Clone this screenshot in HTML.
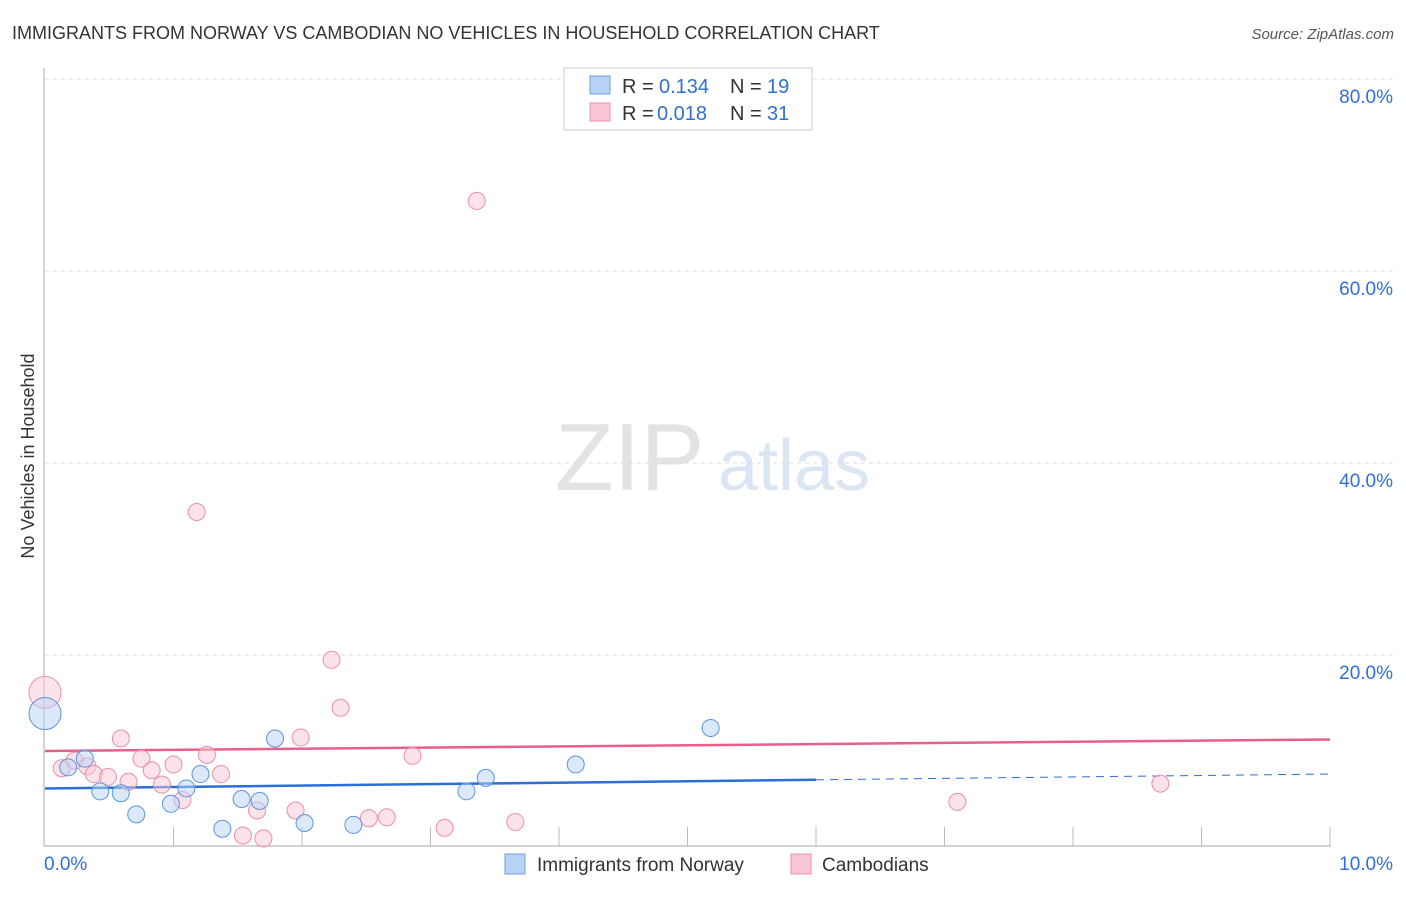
<!DOCTYPE html>
<html><head><meta charset="utf-8"><style>
body{margin:0;background:#fff;font-family:"Liberation Sans",sans-serif;}
svg text{font-family:"Liberation Sans",sans-serif;}
</style></head><body>
<svg id="chart" width="1406" height="892">
<text x="12" y="39" font-size="18" fill="#333">IMMIGRANTS FROM NORWAY VS CAMBODIAN NO VEHICLES IN HOUSEHOLD CORRELATION CHART</text>
<text x="1394" y="39" font-size="15" fill="#555" font-style="italic" text-anchor="end">Source: ZipAtlas.com</text>
<text x="555" y="490" font-size="96" fill="#e3e3e3" font-family="Liberation Serif">ZIP</text>
<text x="718" y="490" font-size="72" fill="#dbe6f5">atlas</text>
<text transform="translate(34,456) rotate(-90)" font-size="18" fill="#333" text-anchor="middle">No Vehicles in Household</text>
<g id="grid"></g><g id="axes"></g><g id="trend"></g><g id="pts"></g>
<g>
<rect x="564" y="68" width="248" height="62" fill="#fff" stroke="#ccc"/>
<rect x="590" y="76" width="20" height="18" fill="#b8d3f5" stroke="#6a9fe0"/>
<text x="622" y="93" font-size="20" fill="#333">R =</text>
<text x="659" y="93" font-size="20" fill="#2f6fd6">0.134</text>
<text x="730" y="93" font-size="20" fill="#333">N =</text>
<text x="767" y="93" font-size="20" fill="#2f6fd6">19</text>
<rect x="590" y="103" width="20" height="18" fill="#f9c7d6" stroke="#ec8fab"/>
<text x="622" y="120" font-size="20" fill="#333">R =</text>
<text x="657" y="120" font-size="20" fill="#2f6fd6">0.018</text>
<text x="730" y="120" font-size="20" fill="#333">N =</text>
<text x="767" y="120" font-size="20" fill="#2f6fd6">31</text>
</g>
<g>
<rect x="505" y="854" width="20" height="20" fill="#b8d3f5" stroke="#6a9fe0"/>
<text x="537" y="871" font-size="19" fill="#333">Immigrants from Norway</text>
<rect x="791" y="854" width="20" height="20" fill="#f9c7d6" stroke="#ec8fab"/>
<text x="822" y="871" font-size="19" fill="#333">Cambodians</text>
</g>
</svg>
<script>
const yTicks=[20,40,60,80];
const yTickLabels=["20.0%","40.0%","60.0%","80.0%"];
const xTickLabels=["0.0%","10.0%"];
const norwayX=[0,0.18,0.31,0.43,0.59,0.71,0.98,1.1,1.21,1.38,1.53,1.67,1.79,2.02,2.4,3.28,3.43,4.13,5.18];
const norwayY=[13.9,8.3,9.2,5.8,5.6,3.4,4.5,6.1,7.6,1.9,5.0,4.8,11.3,2.5,2.3,5.8,7.2,8.6,12.4];
const cambX=[0,0.13,0.23,0.33,0.38,0.49,0.59,0.65,0.75,0.83,0.91,1.0,1.07,1.18,1.26,1.37,1.54,1.65,1.7,1.95,1.99,2.23,2.3,2.52,2.66,2.86,3.11,3.36,3.66,7.1,8.68];
const cambY=[16.1,8.2,9.0,8.4,7.6,7.3,11.3,6.8,9.2,8.0,6.5,8.6,4.9,34.9,9.6,7.6,1.2,3.8,0.9,3.8,11.4,19.5,14.5,3.0,3.1,9.5,2.0,67.3,2.6,4.7,6.6];
const trendB=[6.1,0.15];
const trendP=[10.0,0.12];
const X=v=>45+v*128.5, Y=v=>847-v*9.6;
const NS="http://www.w3.org/2000/svg";
function mk(p,t,a){const e=document.createElementNS(NS,t);for(const k in a)e.setAttribute(k,a[k]);document.getElementById(p).appendChild(e);return e;}
yTicks.forEach((t,i)=>{
 const l=mk('grid','line',{x1:45,x2:1395,y1:Y(t),y2:Y(t),stroke:'#ddd','stroke-dasharray':'4,4'});
 
 
 const tx=mk('grid','text',{x:1393,y:Y(t)+24,'font-size':19,fill:'#2f6fd6','text-anchor':'end'});
 tx.textContent=yTickLabels[i];
 
 
});
mk('axes','line',{x1:44,x2:44,y1:68,y2:846,stroke:'#aaa'});
const xa=mk('axes','line',{x1:44,x2:1331,y1:846,y2:846,stroke:'#aaa'});


for(let i=1;i<=10;i++){mk('axes','line',{x1:X(i),x2:X(i),y1:827,y2:846,stroke:'#bbb'});}
const xl0=mk('axes','text',{x:44,y:870,'font-size':19,fill:'#2f6fd6'});xl0.textContent=xTickLabels[0];


const xl1=mk('axes','text',{x:1393,y:870,'font-size':19,fill:'#2f6fd6','text-anchor':'end'});xl1.textContent=xTickLabels[1];


const tb1=mk('trend','line',{x1:X(0),y1:Y(trendB[0]),x2:X(6),y2:Y(trendB[0]+6*trendB[1]),stroke:'#2a6fd6','stroke-width':2.5});


mk('trend','line',{x1:X(6),y1:Y(trendB[0]+6*trendB[1]),x2:X(10),y2:Y(trendB[0]+10*trendB[1]),stroke:'#2a6fd6','stroke-width':1,'stroke-dasharray':'8,6'});
const tp=mk('trend','line',{x1:X(0),y1:Y(trendP[0]),x2:X(10),y2:Y(trendP[0]+10*trendP[1]),stroke:'#e8608a','stroke-width':2.5});


function pts(xs,ys,fill,stroke,name){xs.forEach((x,i)=>{const r=i==0?16:8.5;
 const c=mk('pts','circle',{cx:X(x),cy:Y(ys[i]),r:r,fill:fill,'fill-opacity':0.5,stroke:stroke,'stroke-width':1});
 
 });}
pts(cambX,cambY,'#f9c7d6','#ec8fab','point-cambodians');
pts(norwayX,norwayY,'#b8d3f5','#5a95e0','point-norway');
</script>
</body></html>
